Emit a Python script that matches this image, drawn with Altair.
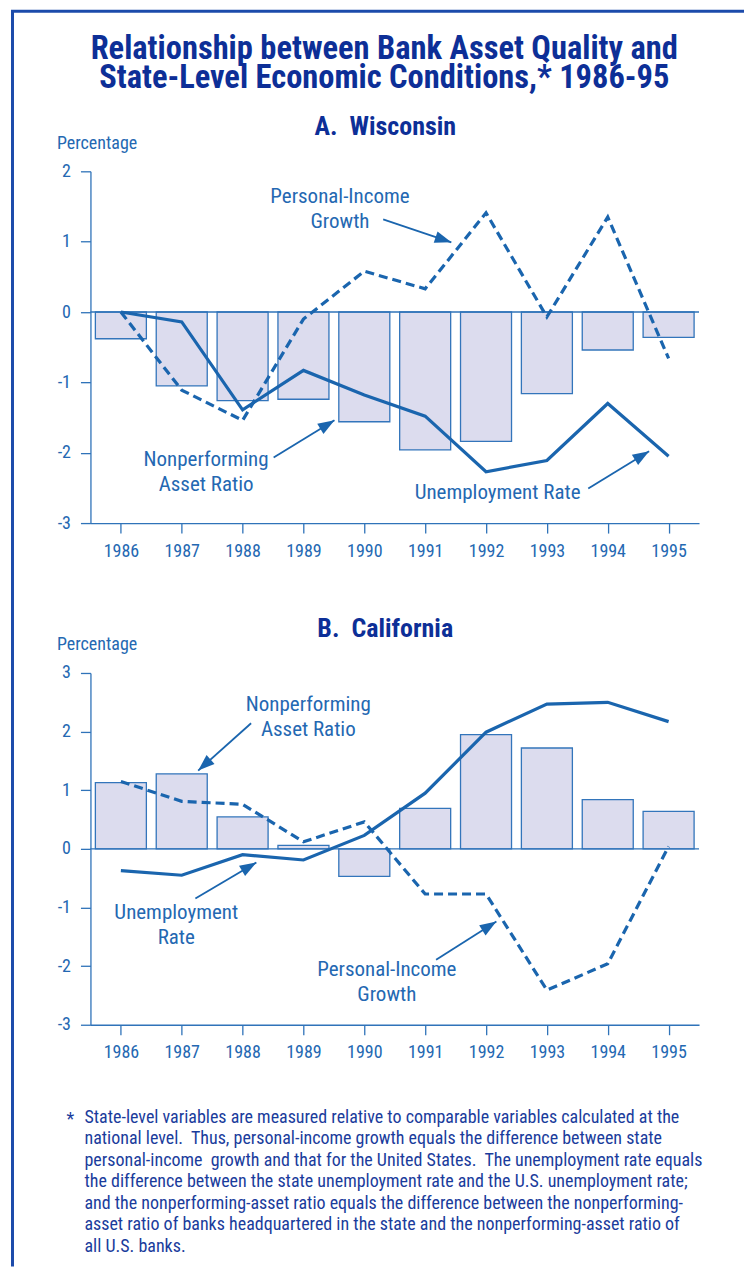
import math
import altair as alt
import pandas as pd

# ---------------- data ----------------
years = [1986, 1987, 1988, 1989, 1990, 1991, 1992, 1993, 1994, 1995]

wi_npa = [-0.38, -1.05, -1.26, -1.24, -1.56, -1.96, -1.84, -1.16, -0.54, -0.36]
wi_unemp = [0.0, -0.14, -1.39, -0.83, -1.18, -1.48, -2.27, -2.11, -1.30, -2.05]
wi_income = [0.0, -1.11, -1.54, -0.10, 0.58, 0.33, 1.41, -0.07, 1.35, -0.66]

ca_npa = [1.13, 1.28, 0.545, 0.06, -0.47, 0.69, 1.95, 1.72, 0.84, 0.64]
ca_unemp = [-0.37, -0.45, -0.10, -0.19, 0.23, 0.95, 1.99, 2.47, 2.50, 2.17]
ca_income = [1.15, 0.81, 0.76, 0.12, 0.46, -0.77, -0.77, -2.41, -1.96, 0.04]

# annotation labels (position of first text line, in data units)
wi_label_text = ["Personal-Income\nGrowth", "Nonperforming\nAsset Ratio", "Unemployment Rate"]
wi_label_x = [1989.60, 1987.40, 1992.19]
wi_label_y = [1.63, -2.107, -2.57]
wi_arrow_from = [(1990.31, 1.317), (1988.51, -2.068), (1993.68, -2.509)]
wi_arrow_to = [(1991.43, 0.99), (1989.51, -1.538), (1994.68, -1.979)]

ca_label_text = ["Nonperforming\nAsset Ratio", "Unemployment\nRate", "Personal-Income\nGrowth"]
ca_label_x = [1989.08, 1986.91, 1990.37]
ca_label_y = [2.454, -1.098, -2.062]
ca_arrow_from = [(1988.14, 2.142), (1987.224, -0.847), (1991.18, -1.892)]
ca_arrow_to = [(1987.27, 1.335), (1988.226, -0.233), (1992.17, -1.239)]

NB = "\u00a0"
title_lines = ["Relationship between Bank Asset Quality and",
               "State-Level Economic Conditions,* 1986-95"]
panel_titles = ["A." + NB + NB + "Wisconsin", "B." + NB + NB + "California"]
footnote_lines = [
    "State-level variables are measured relative to comparable variables calculated at the",
    "national level." + NB + " Thus, personal-income growth equals the difference between state",
    "personal-income " + NB + "growth and that for the United States." + NB + " The unemployment rate equals",
    "the difference between the state unemployment rate and the U.S. unemployment rate;",
    "and the nonperforming-asset ratio equals the difference between the nonperforming-",
    "asset ratio of banks headquartered in the state and the nonperforming-asset ratio of",
    "all U.S. banks.",
]

# ---------------- styles ----------------
FONT = "Liberation Sans Narrow, Roboto Condensed, DejaVu Sans Condensed, Arial Narrow, sans-serif"
W, H = 609, 352
LINE_C = "#1a65ae"
AXIS_C = "#2f73b9"
LABEL_C = "#2468b2"
TITLE_C = "#0d2f97"
FRAME_C = "#1c4bab"
FOOT_C = "#1a3c9c"
BAR_FILL = "#dcdcee"
BAR_STROKE = "#3375bb"
ARROW = "M0,0 L0.36,1 L-0.36,1 Z"
HALF_BAR = 0.419


def one():
    return alt.Data(values=[{}])


def panel(npa, unemp, income, ymin, ymax, ltext, lx, ly, afrom, ato, ptitle, first):
    df = pd.DataFrame({"year": years, "npa": npa, "unemp": unemp, "income": income})
    base = alt.Chart(df)
    xs = alt.Scale(domain=[1985.5, 1995.5], nice=False, zero=False)
    ys = alt.Scale(domain=[ymin, ymax], nice=False, zero=False)
    ypx = H / (ymax - ymin)
    xpx = W / 10.0

    xaxis = alt.Axis(values=years, labelExpr="'' + datum.value", title=None,
                     tickSize=10, labelPadding=9, grid=False)
    yaxis = alt.Axis(values=list(range(ymin, ymax + 1)), labelExpr="'' + datum.value",
                     title="Percentage", titleAngle=0, titleAlign="left",
                     titleBaseline="middle", titleX=-34, titleY=-28,
                     tickSize=10, labelPadding=10, grid=False)

    def X(f):
        return alt.X(f, scale=xs, axis=xaxis)

    def Y(f):
        return alt.Y(f, scale=ys, axis=yaxis)

    bars = base.transform_calculate(
        x0=f"datum.year - {HALF_BAR}", x1=f"datum.year + {HALF_BAR}", zero="0"
    ).mark_rect(fill=BAR_FILL, stroke=BAR_STROKE, strokeWidth=1.3).encode(
        x=X("x0:Q"), x2="x1:Q", y=Y("npa:Q"), y2="zero:Q",
    )

    zero_rule = alt.Chart(alt.Data(values=[{"v": 0}])).mark_rule(
        color=AXIS_C, strokeWidth=1.4
    ).encode(y=Y("v:Q"), x=alt.value(0), x2=alt.value(W))

    unemp_line = base.mark_line(color=LINE_C, strokeWidth=3.2).encode(
        x=X("year:Q"), y=Y("unemp:Q"))
    income_line = base.mark_line(color=LINE_C, strokeWidth=3.2, strokeDash=[9, 5]).encode(
        x=X("year:Q"), y=Y("income:Q"))

    lab = pd.DataFrame({"t": ltext, "x": lx, "y": ly})
    labels = alt.Chart(lab).mark_text(
        font=FONT, fontSize=21, color=LABEL_C, lineBreak="\n", lineHeight=25,
        align="center", baseline="middle"
    ).encode(x=X("x:Q"), y=Y("y:Q"), text="t:N")

    ang = []
    for (x1, y1), (x2, y2) in zip(afrom, ato):
        dx = (x2 - x1) * xpx
        dy = -(y2 - y1) * ypx
        ang.append(math.degrees(math.atan2(dx, -dy)) % 360)
    arr = pd.DataFrame({
        "x1": [a[0] for a in afrom], "y1": [a[1] for a in afrom],
        "x2": [a[0] for a in ato], "y2": [a[1] for a in ato], "ang": ang,
    })
    arrow_lines = alt.Chart(arr).mark_rule(color=LINE_C, strokeWidth=1.8).encode(
        x=X("x1:Q"), y=Y("y1:Q"), x2="x2:Q", y2="y2:Q")
    arrow_heads = alt.Chart(arr).mark_point(
        shape=ARROW, size=1100, filled=True, opacity=1, color=LINE_C, strokeWidth=0
    ).encode(x=X("x2:Q"), y=Y("y2:Q"), angle=alt.Angle("ang:Q", scale=None))

    ptitle_mark = alt.Chart(one()).mark_text(
        font=FONT, fontSize=26, fontWeight="bold", color=TITLE_C, align="center",
        baseline="middle"
    ).encode(x=alt.value(295), y=alt.value(-44), text=alt.value(ptitle))

    layers = [bars, zero_rule, unemp_line, income_line, arrow_lines, arrow_heads, labels, ptitle_mark]

    if first:
        for i, line in enumerate(title_lines):
            layers.append(alt.Chart(one()).mark_text(
                font=FONT, fontSize=32.5, fontWeight="bold", color=TITLE_C, align="center",
                baseline="middle"
            ).encode(x=alt.value(294), y=alt.value(-122 + 29 * i), text=alt.value(line)))
        frame_left = alt.Chart(one()).mark_rule(color=FRAME_C, strokeWidth=3).encode(
            x=alt.value(-78), y=alt.value(-160.2), y2=alt.value(1096))
        frame_top = alt.Chart(one()).mark_rule(color=FRAME_C, strokeWidth=3).encode(
            x=alt.value(-79.5), x2=alt.value(654), y=alt.value(-160.2))
        layers += [frame_left, frame_top]
    else:
        star = alt.Chart(one()).mark_text(
            font=FONT, fontSize=18, color=FOOT_C, align="left", baseline="alphabetic"
        ).encode(x=alt.value(-24), y=alt.value(452), text=alt.value("*"))
        foot = alt.Chart(one()).mark_text(
            font=FONT, fontSize=18, color=FOOT_C, align="left", baseline="alphabetic",
            lineBreak="\n", lineHeight=21.5
        ).encode(x=alt.value(-6), y=alt.value(450), text=alt.value("\n".join(footnote_lines)))
        layers += [star, foot]

    return alt.layer(*layers).properties(width=W, height=H)


pa = panel(wi_npa, wi_unemp, wi_income, -3, 2, wi_label_text, wi_label_x, wi_label_y,
           wi_arrow_from, wi_arrow_to, panel_titles[0], True)
pb = panel(ca_npa, ca_unemp, ca_income, -3, 3, ca_label_text, ca_label_x, ca_label_y,
           ca_arrow_from, ca_arrow_to, panel_titles[1], False)

chart = alt.vconcat(pa, pb, spacing=150, bounds="flush").properties(
    padding={"left": 1.5, "top": 1, "right": 0, "bottom": 0},
    background="white",
).configure_view(stroke=None).configure_axis(
    domainColor=AXIS_C, domainWidth=1.3, tickColor=AXIS_C, tickWidth=1.3,
    labelColor=LABEL_C, labelFont=FONT, labelFontSize=18,
    titleColor=LABEL_C, titleFont=FONT, titleFontSize=18, titleFontWeight="normal",
)

chart.save("out.html", embed_options={"renderer": "svg", "actions": False})
